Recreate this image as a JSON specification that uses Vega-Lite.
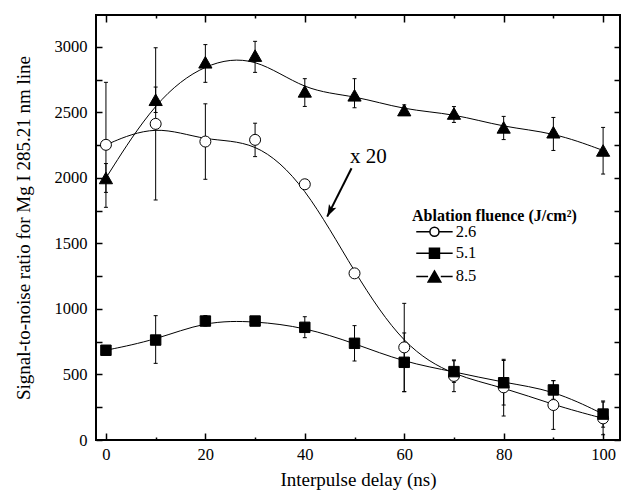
{
  "$schema": "https://vega.github.io/schema/vega-lite/v6.json",
  "width": 524,
  "height": 425,
  "autosize": "none",
  "padding": {"left": 96, "top": 15, "right": 1, "bottom": 57},
  "background": "white",
  "config": {
    "view": {"stroke": "black", "strokeWidth": 2},
    "font": "Liberation Serif",
    "axis": {"grid": false, "domain": false, "labelColor": "black", "titleColor": "black", "tickColor": "black"},
    "legend": {"padding": 0, "titleFont": "Liberation Serif", "titleFontSize": 16, "titleFontWeight": "bold", "titleColor": "black", "labelFont": "Liberation Serif", "labelFontSize": 16.5, "labelColor": "black", "symbolOffset": 14.2, "labelOffset": 13, "rowPadding": 5.2}
  },
  "datasets": {
    "pts": [
      {"delay": 0, "series": "2.6", "snr": 2253, "lo": 1776, "hi": 2730},
      {"delay": 10, "series": "2.6", "snr": 2413, "lo": 1832, "hi": 2994},
      {"delay": 20, "series": "2.6", "snr": 2278, "lo": 1990, "hi": 2566},
      {"delay": 30, "series": "2.6", "snr": 2291, "lo": 2163, "hi": 2418},
      {"delay": 40, "series": "2.6", "snr": 1952, "lo": 1920, "hi": 1985},
      {"delay": 50, "series": "2.6", "snr": 1272, "lo": 1245, "hi": 1300},
      {"delay": 60, "series": "2.6", "snr": 707, "lo": 369, "hi": 1043},
      {"delay": 70, "series": "2.6", "snr": 489, "lo": 369, "hi": 611},
      {"delay": 80, "series": "2.6", "snr": 402, "lo": 183, "hi": 616},
      {"delay": 90, "series": "2.6", "snr": 267, "lo": 81, "hi": 453},
      {"delay": 100, "series": "2.6", "snr": 165, "lo": 40, "hi": 290},
      {"delay": 0, "series": "5.1", "snr": 685, "lo": 660, "hi": 710},
      {"delay": 10, "series": "5.1", "snr": 763, "lo": 585, "hi": 949},
      {"delay": 20, "series": "5.1", "snr": 908, "lo": 870, "hi": 950},
      {"delay": 30, "series": "5.1", "snr": 908, "lo": 880, "hi": 935},
      {"delay": 40, "series": "5.1", "snr": 860, "lo": 781, "hi": 941},
      {"delay": 50, "series": "5.1", "snr": 738, "lo": 603, "hi": 873},
      {"delay": 60, "series": "5.1", "snr": 593, "lo": 369, "hi": 817},
      {"delay": 70, "series": "5.1", "snr": 522, "lo": 440, "hi": 605},
      {"delay": 80, "series": "5.1", "snr": 437, "lo": 267, "hi": 607},
      {"delay": 90, "series": "5.1", "snr": 382, "lo": 311, "hi": 453},
      {"delay": 100, "series": "5.1", "snr": 198, "lo": 98, "hi": 298},
      {"delay": 0, "series": "8.5", "snr": 2000, "lo": 1890, "hi": 2110},
      {"delay": 10, "series": "8.5", "snr": 2597, "lo": 2500, "hi": 2694},
      {"delay": 20, "series": "8.5", "snr": 2883, "lo": 2730, "hi": 3018},
      {"delay": 30, "series": "8.5", "snr": 2934, "lo": 2806, "hi": 3043},
      {"delay": 40, "series": "8.5", "snr": 2661, "lo": 2546, "hi": 2758},
      {"delay": 50, "series": "8.5", "snr": 2631, "lo": 2536, "hi": 2758},
      {"delay": 60, "series": "8.5", "snr": 2518, "lo": 2478, "hi": 2558},
      {"delay": 70, "series": "8.5", "snr": 2492, "lo": 2424, "hi": 2545},
      {"delay": 80, "series": "8.5", "snr": 2386, "lo": 2293, "hi": 2470},
      {"delay": 90, "series": "8.5", "snr": 2349, "lo": 2210, "hi": 2462},
      {"delay": 100, "series": "8.5", "snr": 2210, "lo": 2030, "hi": 2386}
    ],
    "note": [{"delay": 49.1, "snr": 2115, "label": "x 20"}],
    "arrow": [{"x1": 49.4, "y1": 2074, "x2": 44.5, "y2": 1705}]
  },
  "layer": [
    {
      "data": {"name": "pts"},
      "mark": {"type": "rule", "color": "black", "strokeWidth": 1},
      "encoding": {
        "x": {"field": "delay", "type": "quantitative", "scale": {"domain": [-2, 103.4], "nice": false, "zero": false},
          "axis": {"orient": "bottom", "values": [0, 20, 40, 60, 80, 100], "ticks": false, "tickSize": 0, "labelFontSize": 16.5, "labelPadding": 6, "title": "Interpulse delay (ns)", "titleFontSize": 19, "titleFontWeight": "normal", "titlePadding": 8}},
        "y": {"field": "lo", "type": "quantitative", "scale": {"domain": [0, 3244], "nice": false, "zero": false},
          "axis": {"orient": "left", "values": [0, 500, 1000, 1500, 2000, 2500, 3000], "format": "d", "ticks": false, "tickSize": 0, "labelFontSize": 16.5, "labelPadding": 9, "title": "Signal-to-noise ratio for Mg I 285.21 nm line", "titleFontSize": 19, "titleFontWeight": "normal", "titlePadding": 21}},
        "y2": {"field": "hi"}
      }
    },
    {
      "data": {"name": "pts"},
      "mark": {"type": "point", "shape": "M-1,0H1", "size": 16, "filled": false, "stroke": "black", "strokeWidth": 1, "opacity": 1},
      "encoding": {
        "x": {"field": "delay", "type": "quantitative", "scale": {"domain": [-2, 103.4], "nice": false, "zero": false},
          "axis": {"orient": "bottom", "values": [0, 20, 40, 60, 80, 100], "labels": false, "tickSize": -7, "tickWidth": 1.5, "title": null}},
        "y": {"field": "lo", "type": "quantitative", "scale": {"domain": [0, 3244], "nice": false, "zero": false},
          "axis": {"orient": "left", "values": [0, 500, 1000, 1500, 2000, 2500, 3000], "labels": false, "tickSize": -6, "tickWidth": 1.5, "title": null}}
      }
    },
    {
      "data": {"name": "pts"},
      "mark": {"type": "point", "shape": "M-1,0H1", "size": 16, "filled": false, "stroke": "black", "strokeWidth": 1, "opacity": 1},
      "encoding": {
        "x": {"field": "delay", "type": "quantitative", "scale": {"domain": [-2, 103.4], "nice": false, "zero": false},
          "axis": {"orient": "bottom", "values": [10, 30, 50, 70, 90], "labels": false, "tickSize": -3, "tickWidth": 1.5, "title": null}},
        "y": {"field": "hi", "type": "quantitative", "scale": {"domain": [0, 3244], "nice": false, "zero": false},
          "axis": {"orient": "left", "values": [250, 750, 1250, 1750, 2250, 2750], "labels": false, "tickSize": -6, "tickWidth": 1.5, "title": null}}
      }
    },
    {
      "data": {"name": "pts"},
      "mark": {"type": "line", "interpolate": "basis", "color": "black", "strokeWidth": 1},
      "encoding": {
        "x": {"field": "delay", "type": "quantitative", "scale": {"domain": [-2, 103.4], "nice": false, "zero": false},
          "axis": {"orient": "top", "values": [0, 20, 40, 60, 80, 100], "labels": false, "tickSize": -7, "tickWidth": 1.5, "title": null}},
        "y": {"field": "snr", "type": "quantitative", "scale": {"domain": [0, 3244], "nice": false, "zero": false},
          "axis": {"orient": "right", "values": [0, 500, 1000, 1500, 2000, 2500, 3000], "labels": false, "tickSize": -6, "tickWidth": 1.5, "title": null}},
        "detail": {"field": "series"},
        "order": {"field": "delay"}
      }
    },
    {
      "data": {"name": "pts"},
      "mark": {"type": "point", "size": 121, "stroke": "black", "strokeWidth": 1, "opacity": 1, "filled": true},
      "encoding": {
        "x": {"field": "delay", "type": "quantitative", "scale": {"domain": [-2, 103.4], "nice": false, "zero": false},
          "axis": {"orient": "top", "values": [10, 30, 50, 70, 90], "labels": false, "tickSize": -3, "tickWidth": 1.5, "title": null}},
        "y": {"field": "snr", "type": "quantitative", "scale": {"domain": [0, 3244], "nice": false, "zero": false},
          "axis": {"orient": "right", "values": [250, 750, 1250, 1750, 2250, 2750], "labels": false, "tickSize": -6, "tickWidth": 1.5, "title": null}},
        "fill": {"field": "series", "type": "nominal", "scale": {"domain": ["2.6", "5.1", "8.5"], "range": ["white", "black", "black"]}, "legend": null},
        "shape": {"field": "series", "type": "nominal",
          "scale": {"domain": ["2.6", "5.1", "8.5"], "range": ["M1,0A1,1,0,1,1,-1,0A1,1,0,1,1,1,0", "M-0.95,-0.95H0.95V0.95H-0.95Z", "M0,-1.05L1.2,1.05L-1.2,1.05Z"]},
          "legend": null}
      }
    },
    {
      "data": {"name": "pts"},
      "transform": [{"filter": "false"}],
      "mark": {"type": "point", "size": 121, "filled": true, "fill": "white", "stroke": "black", "strokeWidth": 1, "opacity": 1},
      "encoding": {
        "shape": {"field": "series", "type": "nominal",
          "scale": {"domain": ["2.6"], "range": ["M-3.64,0H-0.91M0.91,0H3.64M0.91,0A0.91,0.91,0,1,1,-0.91,0A0.91,0.91,0,1,1,0.91,0"]},
          "legend": {"title": "Ablation fluence (J/cm²)", "orient": "none", "legendX": 316, "legendY": 192.5, "titlePadding": 0}}
      }
    },
    {
      "data": {"name": "pts"},
      "transform": [{"filter": "false"}],
      "mark": {"type": "point", "size": 121, "filled": true, "fill": "black", "stroke": "black", "strokeWidth": 1, "opacity": 1},
      "encoding": {
        "shape": {"field": "series", "type": "nominal",
          "scale": {"domain": ["5.1", "8.5"], "range": ["M-3.64,0H-1M1,0H3.64M-1,-1H1V1H-1Z", "M-3.64,0H-1.27M1.27,0H3.64M0,-1.1L1.27,1.1L-1.27,1.1Z"]},
          "legend": {"title": null, "orient": "none", "legendX": 316, "legendY": 230}}
      }
    },
    {
      "data": {"name": "note"},
      "mark": {"type": "text", "align": "left", "baseline": "alphabetic", "font": "Liberation Serif", "fontSize": 21, "color": "black"},
      "encoding": {
        "x": {"field": "delay", "type": "quantitative", "axis": null, "scale": {"domain": [-2, 103.4], "nice": false, "zero": false}},
        "y": {"field": "snr", "type": "quantitative", "axis": null, "scale": {"domain": [0, 3244], "nice": false, "zero": false}},
        "text": {"field": "label"}
      }
    },
    {
      "data": {"name": "arrow"},
      "mark": {"type": "rule", "color": "black", "strokeWidth": 2},
      "encoding": {
        "x": {"field": "x1", "type": "quantitative", "axis": null, "scale": {"domain": [-2, 103.4], "nice": false, "zero": false}},
        "y": {"field": "y1", "type": "quantitative", "axis": null, "scale": {"domain": [0, 3244], "nice": false, "zero": false}},
        "x2": {"field": "x2"},
        "y2": {"field": "y2"}
      }
    },
    {
      "data": {"name": "arrow"},
      "mark": {"type": "point", "shape": "M0,0L0.75,2.2L0,1.7L-0.75,2.2Z", "size": 121, "filled": true, "fill": "black", "strokeWidth": 0, "opacity": 1, "angle": 207},
      "encoding": {
        "x": {"field": "x2", "type": "quantitative", "axis": null, "scale": {"domain": [-2, 103.4], "nice": false, "zero": false}},
        "y": {"field": "y2", "type": "quantitative", "axis": null, "scale": {"domain": [0, 3244], "nice": false, "zero": false}}
      }
    }
  ],
  "resolve": {"axis": {"x": "independent", "y": "independent"}, "scale": {"shape": "independent"}, "legend": {"shape": "independent"}}
}
